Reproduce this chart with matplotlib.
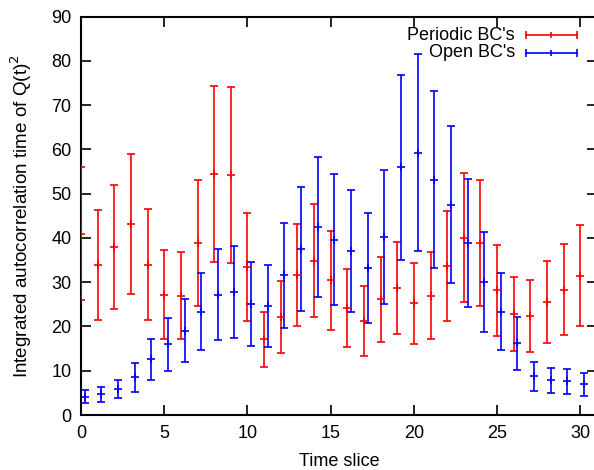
import matplotlib
matplotlib.use("Agg")
import matplotlib.pyplot as plt
import numpy as np

plt.rcParams['font.family'] = ['Liberation Sans', 'DejaVu Sans']

# Data
time_slice = list(range(31))
periodic_tau = [41.0, 33.9, 38.0, 43.2, 34.0, 27.2, 27.0, 38.9, 54.5, 54.3,
                33.4, 17.1, 22.1, 31.6, 34.9, 30.4, 24.2, 21.2, 26.1, 28.7,
                25.2, 27.0, 33.7, 40.1, 38.8, 28.2, 22.9, 22.4, 25.5, 28.3, 31.5]
periodic_err = [15.0, 12.4, 14.0, 15.85, 12.5, 10.0, 9.9, 14.25, 19.95, 19.9,
                12.2, 6.25, 8.1, 11.6, 12.8, 11.25, 8.9, 7.85, 9.55, 10.5,
                9.25, 9.85, 12.4, 14.65, 14.2, 10.3, 8.35, 8.2, 9.3, 10.3, 11.5]
open_tau = [4.1, 4.7, 5.9, 8.5, 12.6, 16.0, 19.0, 23.3, 27.2, 27.9,
            25.1, 24.7, 31.6, 37.5, 42.5, 39.6, 37.1, 33.3, 40.2, 56.0,
            59.3, 53.2, 47.5, 38.9, 30.0, 23.3, 16.2, 8.7, 7.8, 7.6, 6.9]
open_err = [1.5, 1.7, 2.1, 3.2, 4.65, 5.95, 7.1, 8.7, 10.25, 10.4,
            9.4, 9.25, 11.85, 14.1, 15.85, 14.8, 13.85, 12.45, 15.05, 20.9,
            22.2, 19.9, 17.75, 14.5, 11.25, 8.7, 6.0, 3.25, 2.75, 2.75, 2.55]
open_shift = 0.22
labels = ["Periodic BC's", "Open BC's"]
colors = ['#ff0000', '#0000ff']

W, H = 594, 470
fig = plt.figure(figsize=(W / 100, H / 100), dpi=100)
left, right, top, bottom = 81, 597, 16.7, 415
ax = fig.add_axes([left / W, (H - bottom) / H, (right - left) / W, (bottom - top) / H])

x = np.array(time_slice, dtype=float)
for xs, y, e, c in [(x, periodic_tau, periodic_err, colors[0]),
                    (x + open_shift, open_tau, open_err, colors[1])]:
    ax.errorbar(xs, y, yerr=e, fmt='+', color=c, ecolor=c, elinewidth=1.2,
                capsize=2.6, capthick=1.2, markersize=5.5, markeredgewidth=1.2,
                clip_on=True, zorder=3)

ax.set_xlim(0, 31)
ax.set_ylim(0, 90)
ax.set_xticks(range(0, 31, 5))
ax.set_yticks(range(0, 91, 10))
ax.tick_params(direction='in', length=7, width=1.2, top=True, right=True,
               labelsize=13, pad=7, colors='black')
for s in ax.spines.values():
    s.set_linewidth(1.5)

ax.set_xlabel('Time slice', fontsize=13, labelpad=8)
ax.set_ylabel('Integrated autocorrelation time of Q(t)$^2$', fontsize=13.6, labelpad=12)

# Key
aw = right - left
ah = bottom - top
def axx(px):
    return (px - left) / aw
def axy(py):
    return (bottom - py) / ah

for i, (lab, c) in enumerate(zip(labels, colors)):
    py = [35, 52.7][i]
    ax.text(axx(515), axy(py), lab, transform=ax.transAxes, ha='right',
            va='center', fontsize=13)
    x0, x1, xm = axx(525.7), axx(576.7), axx(551)
    ax.plot([x0, x1], [axy(py), axy(py)], color=c, lw=1.2,
            transform=ax.transAxes, clip_on=False)
    ax.plot([x0, x1], [axy(py), axy(py)], ls='none', marker='|', ms=6,
            mew=1.2, color=c, transform=ax.transAxes, clip_on=False)
    ax.plot([xm], [axy(py)], ls='none', marker='|', ms=5, mew=1.2, color=c,
            transform=ax.transAxes, clip_on=False)

fig.savefig('out.png', dpi=100)
